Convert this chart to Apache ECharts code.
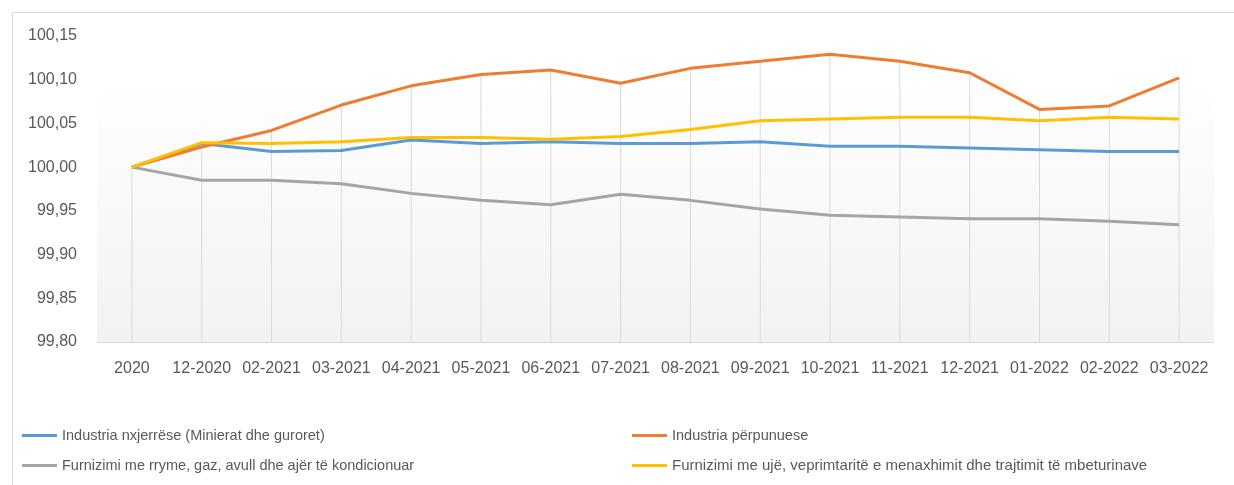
<!DOCTYPE html>
<html>
<head>
<meta charset="utf-8">
<script src="https://cdn.jsdelivr.net/npm/echarts@6/dist/echarts.min.js"></script>
<style>
html,body{margin:0;padding:0;background:#fff;}
#chart{width:1234px;height:485px;}
</style>
</head>
<body>
<div id="chart"></div>
<script>
const categories = ['2020','12-2020','02-2021','03-2021','04-2021','05-2021','06-2021','07-2021','08-2021','09-2021','10-2021','11-2021','12-2021','01-2022','02-2022','03-2022'];
const seriesNames = [
  'Industria nxjerrëse (Minierat dhe guroret)',
  'Industria përpunuese',
  'Furnizimi me rryme, gaz, avull dhe ajër të kondicionuar',
  'Furnizimi me ujë, veprimtaritë e menaxhimit dhe trajtimit të mbeturinave'
];
const mining = [100.000,100.027,100.018,100.019,100.031,100.027,100.029,100.027,100.027,100.029,100.024,100.024,100.022,100.020,100.018,100.018];
const manufacturing = [100.000,100.023,100.042,100.071,100.093,100.106,100.111,100.096,100.113,100.121,100.129,100.121,100.108,100.066,100.070,100.102];
const electricity = [100.000,99.985,99.985,99.981,99.970,99.962,99.957,99.969,99.962,99.952,99.945,99.943,99.941,99.941,99.938,99.934];
const water = [100.000,100.028,100.027,100.029,100.034,100.034,100.032,100.035,100.043,100.053,100.055,100.057,100.057,100.053,100.057,100.055];
const yTicks = ['99,80','99,85','99,90','99,95','100,00','100,05','100,10','100,15'];

const dropLines = categories.map((c, i) => Math.max(mining[i], manufacturing[i], electricity[i], water[i]));

const colors = ['#5b9bd5', '#ed7d31', '#a5a5a5', '#ffc000'];
const allSeries = [mining, manufacturing, electricity, water];
const font = 'Liberation Sans';

const chart = echarts.init(document.getElementById('chart'));
const legendPos = [[17, 423], [627, 423], [17, 453], [627, 453]];
const legendFont = [14.5, 14.5, 14.5, 15];

const option = {
  animation: false,
  textStyle: { fontFamily: font },
  graphic: [{
    type: 'rect',
    shape: { x: 12.5, y: 12.5, width: 1400, height: 700 },
    style: { fill: 'none', stroke: '#d9d9d9', lineWidth: 1 },
    silent: true, z: -10
  }],
  grid: {
    left: 97, right: 20, top: 36, bottom: 143,
    show: true, borderWidth: 0,
    backgroundColor: new echarts.graphic.LinearGradient(0, 0, 0, 1, [
      { offset: 0, color: '#ffffff' },
      { offset: 0.15, color: '#ffffff' },
      { offset: 1, color: '#f2f2f2' }
    ])
  },
  legend: seriesNames.map((n, i) => ({
    data: [n],
    left: legendPos[i][0], top: legendPos[i][1],
    icon: 'rect', itemWidth: 35, itemHeight: 3,
    itemGap: 5,
    textStyle: { color: '#595959', fontSize: legendFont[i], fontFamily: font },
    selectedMode: false
  })),
  xAxis: {
    type: 'category',
    data: categories,
    boundaryGap: true,
    axisLine: { show: true, lineStyle: { color: '#d9d9d9', width: 1 } },
    axisTick: { show: false },
    splitLine: { show: false },
    axisLabel: { color: '#595959', fontSize: 16, margin: 19, interval: 0, fontFamily: font }
  },
  yAxis: {
    type: 'value',
    min: 99.8, max: 100.15, interval: 0.05,
    axisLine: { show: false },
    axisTick: { show: false },
    splitLine: { show: false },
    axisLabel: {
      color: '#595959', fontSize: 16, margin: 20, fontFamily: font,
      formatter: v => yTicks[Math.round((v - 99.8) / 0.05)] || ''
    }
  },
  series: [{
    name: 'drop',
    type: 'bar',
    data: dropLines,
    barWidth: 1,
    itemStyle: { color: '#d9d9d9' },
    silent: true,
    clip: true,
    z: 1
  }].concat(allSeries.map((d, i) => ({
    name: seriesNames[i],
    type: 'line',
    data: d,
    symbol: 'none',
    lineStyle: { color: colors[i], width: 3 },
    itemStyle: { color: colors[i] },
    z: 3 + i
  })))
};
chart.setOption(option);
</script>
</body>
</html>
